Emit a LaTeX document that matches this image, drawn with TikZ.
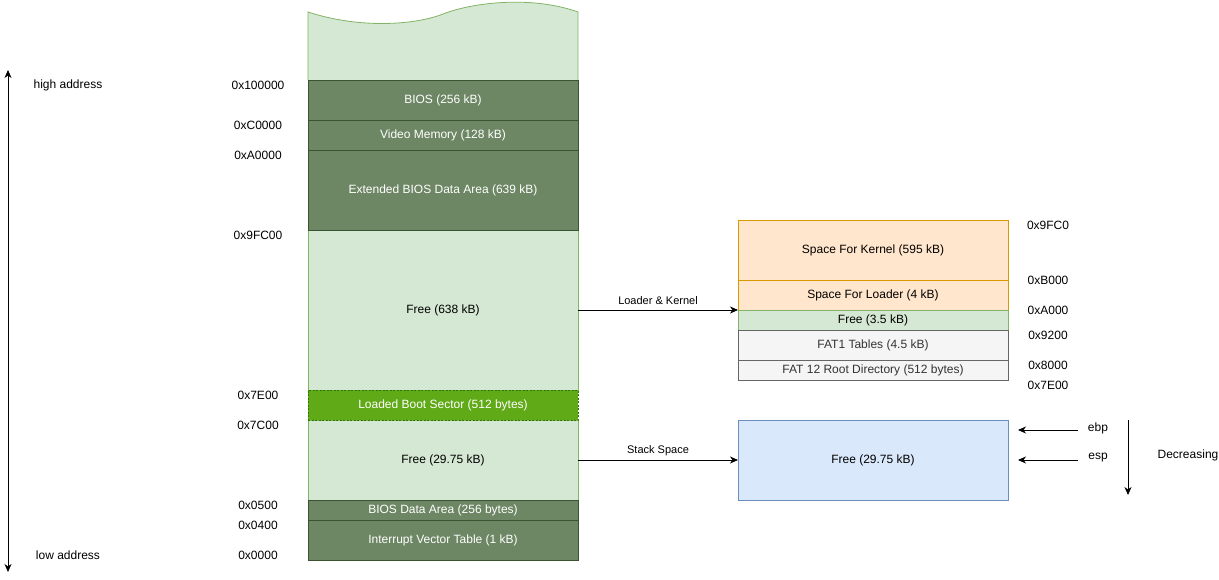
\documentclass[tikz,border=0pt]{standalone}
\usepackage{fontspec}
\setmainfont{Liberation Sans}
\usetikzlibrary{arrows.meta}
\definecolor{dkfill}{HTML}{6D8764}
\definecolor{dkline}{HTML}{3A5431}
\definecolor{ltfill}{HTML}{D5E8D4}
\definecolor{ltline}{HTML}{82B366}
\definecolor{bsfill}{HTML}{60A917}
\definecolor{bsline}{HTML}{2D7600}
\definecolor{orfill}{HTML}{FFE6CC}
\definecolor{orline}{HTML}{D79B00}
\definecolor{gyfill}{HTML}{F5F5F5}
\definecolor{gyline}{HTML}{666666}
\definecolor{gytext}{HTML}{333333}
\definecolor{blfill}{HTML}{DAE8FC}
\definecolor{blline}{HTML}{6C8EBF}
\tikzset{
  box/.style={draw, line width=0.8pt, inner sep=0pt, outer sep=0pt, minimum width=270pt, font=\fontsize{12}{14}\selectfont, text=black},
  darkbox/.style={box, fill=dkfill, draw=dkline, text=white},
  lightbox/.style={box, fill=ltfill, draw=ltline},
  bootbox/.style={box, fill=bsfill, draw=bsline, text=white, dashed, dash pattern=on 2pt off 1.5pt},
  orbox/.style={box, fill=orfill, draw=orline},
  gybox/.style={box, fill=gyfill, draw=gyline, text=gytext},
  blbox/.style={box, fill=blfill, draw=blline},
  lbl/.style={inner sep=0pt, font=\fontsize{12}{14}\selectfont},
  smlbl/.style={inner sep=0pt, font=\fontsize{11}{13}\selectfont},
  arr/.style={line width=0.8pt, ->},
  dblarr/.style={line width=0.8pt, <->},
}
\begin{document}
\begin{tikzpicture}[x=1pt,y=-1pt, >={Stealth[length=8pt,width=7pt,inset=2.5pt]}]
\useasboundingbox (0,0) rectangle (1219,580);
% wavy top
\path[fill=ltfill, draw=ltline, line width=0.8pt] (308,80) -- (308,12) .. controls (360,29) and (415,25) .. (443,14) .. controls (471,3) and (530,-5) .. (578,12) -- (578,80);
% left column
\node[lightbox, minimum height=160pt] (free638) at (443,310) {Free (638 kB)};
\node[lightbox, minimum height=80pt] (free2975) at (443,460) {Free (29.75 kB)};
\node[darkbox, minimum height=40pt] (bios) at (443,100) {BIOS (256 kB)};
\node[darkbox, minimum height=30pt] (video) at (443,135) {Video Memory (128 kB)};
\node[darkbox, minimum height=80pt] (ebda) at (443,190) {Extended BIOS Data Area (639 kB)};
\node[bootbox, minimum height=30pt] (boot) at (443,405) {Loaded Boot Sector (512 bytes)};
\node[darkbox, minimum height=20pt] (bda) at (443,510) {BIOS Data Area (256 bytes)};
\node[darkbox, minimum height=40pt] (ivt) at (443,540) {Interrupt Vector Table (1 kB)};
% address labels
\node[lbl] (a1) at (258,85) {0x100000};
\node[lbl] (a2) at (258,125) {0xC0000};
\node[lbl] (a3) at (258,155) {0xA0000};
\node[lbl] (a4) at (258,235) {0x9FC00};
\node[lbl] (a5) at (258,395) {0x7E00};
\node[lbl] (a6) at (258,425) {0x7C00};
\node[lbl] (a7) at (258,505) {0x0500};
\node[lbl] (a8) at (258,525) {0x0400};
\node[lbl] (a9) at (258,555) {0x0000};
% high/low
\node[lbl] (high) at (68,85) {high address};
\node[lbl] (low) at (68,555) {low address};
\coordinate (ltop) at (8,70);
\coordinate (lbot) at (8,572);
\draw[dblarr] (ltop) -- (lbot);
% right column
\node[orbox, minimum height=60pt] (kernel) at (873,250) {Space For Kernel (595 kB)};
\node[orbox, minimum height=30pt] (loader) at (873,295) {Space For Loader (4 kB)};
\node[lightbox, minimum height=20pt] (free35) at (873,320) {Free (3.5 kB)};
\node[gybox, minimum height=30pt] (fat1) at (873,345) {FAT1 Tables (4.5 kB)};
\node[gybox, minimum height=20pt] (root) at (873,370) {FAT 12 Root Directory (512 bytes)};
\node[lbl] (b1) at (1048,225) {0x9FC0};
\node[lbl] (b2) at (1048,280) {0xB000};
\node[lbl] (b3) at (1048,310) {0xA000};
\node[lbl] (b4) at (1048,335) {0x9200};
\node[lbl] (b5) at (1048,365) {0x8000};
\node[lbl] (b6) at (1048,385) {0x7E00};
\node[blbox, minimum height=80pt] (stack) at (873,460) {Free (29.75 kB)};
% connectors
\draw[arr] (free638.east) -- node[smlbl, above=5pt] {Loader \& Kernel} (loader.south west);
\draw[arr] (free2975.east) -- node[smlbl, above=4pt] {Stack Space} (stack.west);
% ebp / esp
\node[lbl] (ebp) at (1098,428) {ebp};
\node[lbl] (esp) at (1098,458) {esp};
\coordinate (ebps) at (1078,430);
\coordinate (ebpe) at (1018,430);
\coordinate (esps) at (1078,460);
\coordinate (espe) at (1018,460);
\draw[arr] (ebps) -- (ebpe);
\draw[arr] (esps) -- (espe);
\coordinate (dtop) at (1128,420);
\coordinate (dbot) at (1128,495);
\draw[arr] (dtop) -- (dbot);
\node[lbl] (dec) at (1188,455) {Decreasing};
\end{tikzpicture}
\end{document}
